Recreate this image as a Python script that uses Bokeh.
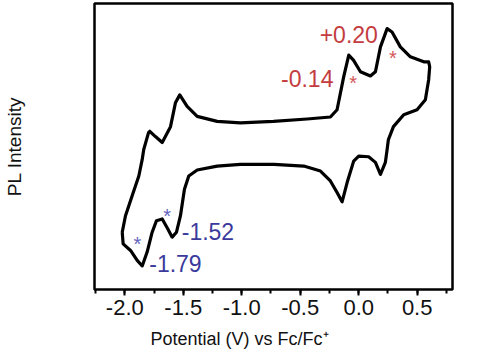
from bokeh.plotting import figure
from bokeh.models import Range1d, SingleIntervalTicker, FixedTicker, NumeralTickFormatter, Title
from bokeh.core.properties import value
from bokeh.embed import file_html
from bokeh.resources import INLINE

# Cyclic voltammogram (potential in V vs Fc/Fc+, current in arbitrary units)
potential = [-2.022, -1.994, -1.937, -1.880, -1.851, -1.838, -1.797, -1.786, -1.738, -1.680,
             -1.609, -1.567, -1.530, -1.467, -1.381, -1.210, -1.011, -0.729, -0.441, -0.242,
             -0.185, -0.128, -0.085, -0.045, 0.015, 0.100, 0.143, 0.186, 0.243, 0.285,
             0.356, 0.442, 0.556, 0.598, 0.607, 0.598, 0.570, 0.499, 0.385, 0.297,
             0.254, 0.243, 0.228, 0.186, 0.143, 0.085, 0.000, -0.043, -0.099, -0.142,
             -0.185, -0.242, -0.327, -0.470, -0.726, -1.011, -1.210, -1.381, -1.453, -1.490,
             -1.524, -1.558, -1.595, -1.632, -1.680, -1.729, -1.766, -1.809, -1.851, -1.894,
             -1.951, -2.014, -2.022]
current = [5.77, 7.43, 9.43, 11.43, 13.10, 14.10, 15.80, 15.93, 15.40, 14.80,
           16.40, 18.80, 19.60, 18.43, 17.43, 16.93, 16.77, 16.93, 17.17, 17.37,
           18.10, 21.43, 23.60, 23.10, 21.93, 21.50, 21.93, 24.43, 26.27, 25.93,
           24.43, 23.43, 22.93, 22.93, 22.43, 21.10, 19.10, 18.10, 17.60, 16.40,
           15.10, 14.10, 12.80, 11.60, 12.80, 13.37, 13.43, 12.93, 10.77, 8.83,
           9.77, 10.93, 11.93, 12.43, 12.60, 12.60, 12.43, 12.03, 11.43, 10.10,
           7.43, 5.77, 5.27, 6.10, 7.10, 6.93, 5.77, 3.77, 2.37, 2.93,
           3.93, 4.60, 5.77]

ox_labels = ["+0.20", "-0.14"]
ox_label_x = [-0.085, -0.440]
ox_label_y = [25.7, 21.2]
ox_star_x = [0.293, -0.048]
ox_star_y = [23.3, 20.8]

red_labels = ["-1.52", "-1.79"]
red_label_x = [-1.289, -1.567]
red_label_y = [5.8, 2.57]
red_star_x = [-1.637, -1.893]
red_star_y = [7.4, 4.57]

x_ticks_interval = 0.5
x_label = "Potential (V) vs Fc/Fc\u207a"
y_label = "PL Intensity"

FONT = "Liberation Sans"
RED = "#c43c3f"
RED_STAR = "#d4585a"
BLUE = "#3a3a9c"
BLUE_STAR = "#6464c0"
INK = "#111111"

p = figure(width=484, height=357, output_backend="svg", toolbar_location=None,
           x_range=Range1d(-2.259, 0.802), y_range=Range1d(0, 28.8),
           min_border_left=94, min_border_right=32, min_border_top=3, min_border_bottom=66)

p.line(potential, current, line_color="black", line_width=3.2, line_join="round")

p.text(x=ox_label_x, y=ox_label_y, text=ox_labels, text_color=RED,
       text_font=value(FONT), text_font_size="23px", text_align="center", text_baseline="middle")
p.text(x=ox_star_x, y=ox_star_y, text=["*", "*"], text_color=RED_STAR,
       text_font=value(FONT), text_font_size="20px", text_align="center",
       text_baseline="alphabetic", y_offset=0)
p.text(x=red_label_x, y=red_label_y, text=red_labels, text_color=BLUE,
       text_font=value(FONT), text_font_size="23px", text_align="center", text_baseline="middle")
p.text(x=red_star_x, y=red_star_y, text=["*", "*"], text_color=BLUE_STAR,
       text_font=value(FONT), text_font_size="20px", text_align="center",
       text_baseline="alphabetic", y_offset=0)

p.xgrid.visible = False
p.ygrid.visible = False
p.outline_line_color = "black"
p.outline_line_width = 2.5

# y axis: only its title is shown
p.yaxis.ticker = FixedTicker(ticks=[])
p.yaxis.axis_line_color = None
p.yaxis.major_tick_in = 0
p.yaxis.major_tick_out = 0
p.yaxis.minor_tick_in = 0
p.yaxis.minor_tick_out = 0
p.yaxis.major_label_standoff = 0
p.yaxis.axis_label = y_label
p.yaxis.axis_label_text_font = FONT
p.yaxis.axis_label_text_font_size = "19px"
p.yaxis.axis_label_text_font_style = "normal"
p.yaxis.axis_label_text_color = INK
p.yaxis.axis_label_standoff = 70

# x axis
p.xaxis.ticker = SingleIntervalTicker(interval=x_ticks_interval, num_minor_ticks=2)
p.xaxis.formatter = NumeralTickFormatter(format="0.0")
p.xaxis.axis_line_color = None
p.xaxis.major_tick_in = 0
p.xaxis.major_tick_out = 6
p.xaxis.minor_tick_in = 0
p.xaxis.minor_tick_out = 4
p.xaxis.major_tick_line_width = 2
p.xaxis.minor_tick_line_width = 2
p.xaxis.major_tick_line_color = "black"
p.xaxis.minor_tick_line_color = "black"
p.xaxis.major_label_text_font = FONT
p.xaxis.major_label_text_font_size = "22px"
p.xaxis.major_label_text_color = INK
p.xaxis.major_label_standoff = 4

p.add_layout(Title(text=x_label, align="left", offset=56, standoff=18,
                   text_font=FONT, text_font_size="18px", text_font_style="normal",
                   text_color=INK), "below")

p.background_fill_color = "white"
p.border_fill_color = "white"

open("out.html", "w").write(file_html(p, INLINE))
